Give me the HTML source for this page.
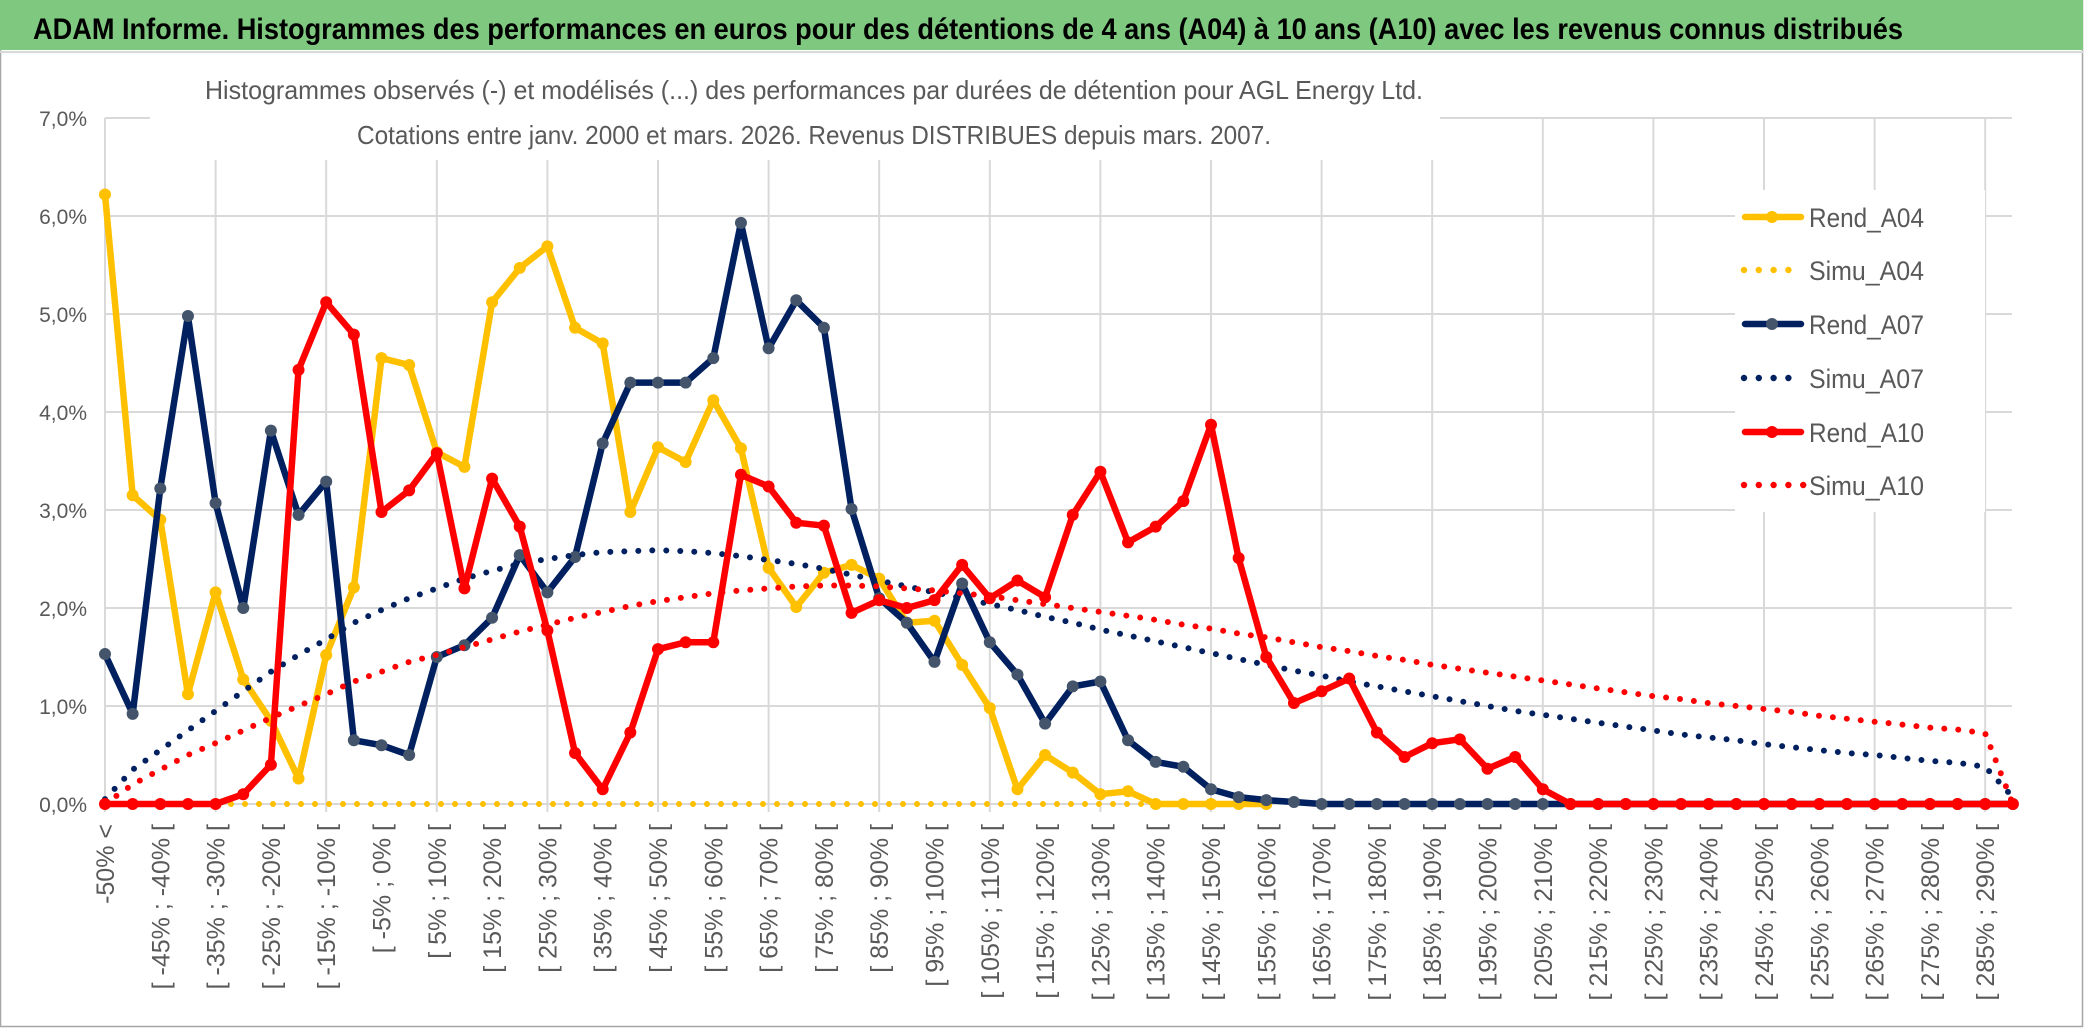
<!DOCTYPE html>
<html><head><meta charset="utf-8"><style>
html,body{margin:0;padding:0;background:#fff;}
svg{display:block;font-family:"Liberation Sans",sans-serif;}
</style></head><body>
<svg id="chart" width="2086" height="1031" viewBox="0 0 2086 1031" xmlns="http://www.w3.org/2000/svg">
<rect x="0" y="0" width="2086" height="1031" fill="#fff"/>
<rect x="0.5" y="0.5" width="2082" height="1026" fill="none" stroke="#a6a6a6" stroke-width="1.5"/>
<rect x="0" y="0" width="2083" height="50" fill="#7ec87f"/>
<line x1="0" y1="52" x2="2083" y2="52" stroke="#d9d9d9" stroke-width="2"/>
<text x="33" y="39" font-size="30" font-weight="bold" fill="#000" textLength="1870" lengthAdjust="spacingAndGlyphs">ADAM Informe. Histogrammes des performances en euros pour des détentions de 4 ans (A04) à 10 ans (A10) avec les revenus connus distribués</text>
<g id="grid"></g>
<rect x="150" y="56" width="1290" height="104" fill="#fff"/>
<text x="814" y="99" font-size="26" fill="#595959" text-anchor="middle" textLength="1218" lengthAdjust="spacingAndGlyphs">Histogrammes observés (-) et modélisés (...) des performances par durées de détention pour AGL Energy Ltd.</text>
<text x="814" y="144" font-size="26" fill="#595959" text-anchor="middle" textLength="914" lengthAdjust="spacingAndGlyphs">Cotations entre janv. 2000 et mars. 2026. Revenus DISTRIBUES depuis mars. 2007.</text>
<g id="yaxis"></g>
<g id="xaxis"></g>
<g id="series"></g>
<g id="legend"></g>
</svg>
<script>
const yTicks = [0,1,2,3,4,5,6,7];
const rendA04 = [6.22,3.15,2.90,1.12,2.16,1.27,0.85,0.26,1.52,2.21,4.55,4.48,3.59,3.44,5.12,5.47,5.69,4.86,4.70,2.98,3.64,3.49,4.12,3.63,2.41,2.01,2.36,2.44,2.30,1.85,1.87,1.42,0.98,0.15,0.50,0.32,0.10,0.13,0,0,0,0,0];
const simuA04 = [0,0,0,0,0,0,0,0,0,0,0,0,0,0,0,0,0,0,0,0,0,0,0,0,0,0,0,0,0,0,0,0,0,0,0,0,0,0,0,0,0,0,0];
const rendA07 = [1.53,0.92,3.22,4.98,3.07,2.00,3.81,2.95,3.29,0.65,0.60,0.50,1.50,1.62,1.90,2.54,2.16,2.52,3.68,4.30,4.30,4.30,4.55,5.93,4.65,5.14,4.86,3.01,2.10,1.85,1.45,2.25,1.65,1.32,0.82,1.20,1.25,0.65,0.43,0.38,0.15,0.07,0.04,0.02,0,0,0,0,0,0,0,0,0,0,0,0,0,0,0,0,0,0,0,0,0,0,0,0,0,0];
const simuA07 = [0.05,0.35,0.55,0.75,0.95,1.15,1.35,1.52,1.68,1.85,1.98,2.10,2.20,2.30,2.38,2.45,2.50,2.54,2.57,2.58,2.59,2.58,2.56,2.53,2.49,2.45,2.40,2.34,2.28,2.22,2.16,2.10,2.04,1.98,1.91,1.85,1.78,1.72,1.66,1.60,1.54,1.48,1.42,1.36,1.31,1.25,1.20,1.15,1.10,1.05,1.00,0.95,0.91,0.87,0.83,0.79,0.75,0.71,0.68,0.65,0.61,0.58,0.55,0.52,0.50,0.47,0.44,0.42,0.38,0.07];
const rendA10 = [0,0,0,0,0,0.10,0.40,4.43,5.12,4.79,2.98,3.20,3.58,2.20,3.32,2.83,1.77,0.52,0.15,0.73,1.58,1.65,1.65,3.36,3.24,2.87,2.84,1.95,2.08,2.00,2.08,2.44,2.10,2.28,2.11,2.95,3.39,2.67,2.83,3.09,3.87,2.51,1.50,1.03,1.15,1.28,0.73,0.48,0.62,0.66,0.36,0.48,0.15,0,0,0,0,0,0,0,0,0,0,0,0,0,0,0,0,0];
const simuA10 = [0.0,0.20,0.35,0.50,0.62,0.75,0.88,1.00,1.12,1.25,1.35,1.45,1.52,1.60,1.68,1.76,1.83,1.90,1.96,2.02,2.07,2.11,2.15,2.18,2.20,2.22,2.23,2.23,2.22,2.20,2.18,2.15,2.12,2.08,2.04,2.00,1.96,1.92,1.88,1.83,1.79,1.74,1.70,1.65,1.60,1.56,1.51,1.47,1.42,1.38,1.34,1.30,1.26,1.22,1.18,1.14,1.10,1.07,1.03,1.00,0.97,0.94,0.90,0.87,0.84,0.81,0.78,0.76,0.72,0.0];
const categoryLows = [];
for (let i = 0; i < 70; i++) categoryLows.push(-55 + 5 * i);

const NS = "http://www.w3.org/2000/svg";
const X0 = 105, DX = 27.65, Y0 = 804, DY = 98;
function xs(i){ return X0 + i * DX; }
function ys(v){ return Y0 - v * DY; }
function mk(tag, attrs, parent){
  const e = document.createElementNS(NS, tag);
  for (const k in attrs) e.setAttribute(k, attrs[k]);
  parent.appendChild(e);
  return e;
}
const grid = document.getElementById('grid');
for (const t of yTicks) {
  const l = mk('line', {x1: X0, x2: 2012, y1: ys(t), y2: ys(t), stroke: '#d9d9d9', 'stroke-width': 2}, grid);
  
  
}
for (let k = 0; k * 110.6 + X0 <= 2013; k++) {
  const x = X0 + k * 110.6;
  const l = mk('line', {x1: x, x2: x, y1: ys(7), y2: Y0 + 8, stroke: '#d9d9d9', 'stroke-width': 2}, grid);
  
  
}
const yaxis = document.getElementById('yaxis');
for (const t of yTicks) {
  const tx = mk('text', {x: 87, y: ys(t) + 8, 'font-size': 21, fill: '#595959', 'text-anchor': 'end'}, yaxis);
  tx.textContent = t.toFixed(1).replace('.', ',') + '%';
  
  
}
const xaxis = document.getElementById('xaxis');
for (let i = 0; i < categoryLows.length; i += 2) {
  const lo = categoryLows[i];
  const label = i === 0 ? '-50% <' : '[ ' + lo + '% ; ' + (lo + 5) + '% [';
  const x = xs(i) + 9;
  const tx = mk('text', {x: x, y: 824, 'font-size': 25, fill: '#595959', 'text-anchor': 'end', transform: 'rotate(-90 ' + x + ' 824)'}, xaxis);
  tx.textContent = label;
  
  
}
const series = document.getElementById('series');
function pts(arr){ return arr.map((v, i) => xs(i).toFixed(1) + ',' + ys(v).toFixed(1)).join(' '); }
function solid(arr, color, mcolor, name){
  const g = mk('g', {}, series);
  
  
  mk('polyline', {points: pts(arr), fill: 'none', stroke: color, 'stroke-width': 6.5, 'stroke-linejoin': 'round', 'stroke-linecap': 'round'}, g);
  arr.forEach((v, i) => {
    const c = mk('circle', {cx: xs(i), cy: ys(v), r: 6, fill: mcolor}, g);
    
    
  });
}
function dotted(arr, color, name){
  const p = mk('polyline', {points: pts(arr), fill: 'none', stroke: color, 'stroke-width': 6, 'stroke-dasharray': '0 14', 'stroke-linecap': 'round'}, series);
  
  
}
solid(rendA04, '#ffc000', '#ffc000', 'rend-a04-line');
dotted(simuA04, '#ffc000', 'simu-a04-line');
solid(rendA07, '#002060', '#44546a', 'rend-a07-line');
dotted(simuA07, '#002060', 'simu-a07-line');
solid(rendA10, '#ff0000', '#ff0000', 'rend-a10-line');
dotted(simuA10, '#ff0000', 'simu-a10-line');

const legend = document.getElementById('legend');
mk('rect', {x: 1735, y: 190, width: 250, height: 322, fill: '#fff'}, legend);
const entries = [
  ['Rend_A04', '#ffc000', '#ffc000', false, 217],
  ['Simu_A04', '#ffc000', '#ffc000', true, 270],
  ['Rend_A07', '#002060', '#44546a', false, 324],
  ['Simu_A07', '#002060', '#002060', true, 378],
  ['Rend_A10', '#ff0000', '#ff0000', false, 432],
  ['Simu_A10', '#ff0000', '#ff0000', true, 485]
];
for (const en of entries) {
  const g = mk('g', {}, legend);
  
  
  const y = en[4];
  if (en[3]) {
    const n = en[0] === 'Simu_A10' ? 5 : 4;
    for (let k = 0; k < n; k++) mk('circle', {cx: 1744 + k * 14.8, cy: y, r: 3.2, fill: en[1]}, g);
  } else {
    mk('line', {x1: 1745, x2: 1801, y1: y, y2: y, stroke: en[1], 'stroke-width': 6.5, 'stroke-linecap': 'round'}, g);
    mk('circle', {cx: 1772, cy: y, r: 6, fill: en[2]}, g);
  }
  const t = mk('text', {x: 1809, y: y + 10, 'font-size': 27, fill: '#595959', textLength: 115, lengthAdjust: 'spacingAndGlyphs'}, g);
  t.textContent = en[0];
}
</script>
</body></html>
